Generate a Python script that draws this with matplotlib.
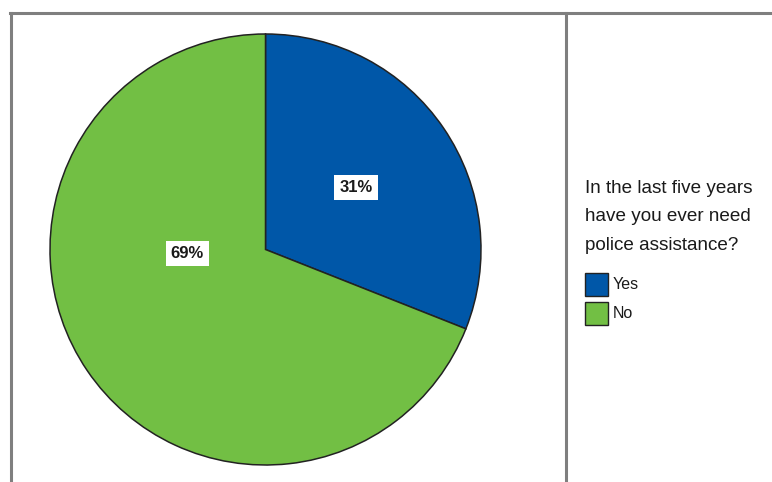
import numpy as np
import matplotlib
matplotlib.use("Agg")
import matplotlib.pyplot as plt
from matplotlib.lines import Line2D
from matplotlib.patches import Rectangle

plt.rcParams['font.family'] = ['Liberation Sans', 'DejaVu Sans']

# data
categories = ['Yes', 'No']
shares = [31, 69]
colors = ['#0057a8', '#72bf44']
title_lines = ['In the last five years', 'have you ever need', 'police assistance?']

W, H = 772, 482
fig = plt.figure(figsize=(W / 100, H / 100), dpi=100)

# pie axes (pixel layout)
r = 215.5
cx, cy = 265.5, 249.5
pad = 1.02
ax = fig.add_axes([(cx - r * pad) / W, (H - cy - r * pad) / H, 2 * r * pad / W, 2 * r * pad / H])
wedges, _ = ax.pie(shares, colors=colors, startangle=90, counterclock=False,
                   wedgeprops=dict(edgecolor='#222222', linewidth=1.1))
ax.set_xlim(-pad, pad)
ax.set_ylim(-pad, pad)
ax.set_aspect('equal')
ax.axis('off')

# percentage labels
label_pos = [(0.42, 0.29), (-0.363, -0.02)]
for s, (x, y) in zip(shares, label_pos):
    ax.text(x, y, f'{s}%', ha='center', va='center', fontsize=12, fontweight='bold',
            color='#1a1a1a',
            bbox=dict(facecolor='white', edgecolor='none', boxstyle='square,pad=0.3'))

# frame lines
gray = '#7f7f7f'
lw = 2.2
fig.add_artist(Line2D([10 / W, 1], [1 - 13 / H, 1 - 13 / H], color=gray, lw=lw,
                      transform=fig.transFigure))
fig.add_artist(Line2D([11 / W, 11 / W], [0, 1 - 13 / H], color=gray, lw=lw,
                      transform=fig.transFigure))
fig.add_artist(Line2D([566 / W, 566 / W], [0, 1 - 13 / H], color=gray, lw=lw,
                      transform=fig.transFigure))

# legend title
for i, line in enumerate(title_lines):
    fig.text(585 / W, 1 - (193 + 28.5 * i) / H, line, fontsize=13.6, color='#1a1a1a',
             ha='left', va='baseline')

# legend entries
for i, (cat, c) in enumerate(zip(categories, colors)):
    top = 273 + 29 * i
    fig.add_artist(Rectangle((585 / W, 1 - (top + 23) / H), 23 / W, 23 / H,
                             facecolor=c, edgecolor='#222222', lw=1.0,
                             transform=fig.transFigure))
    fig.text(613 / W, 1 - (top + 11.5) / H, cat, fontsize=11.5, color='#1a1a1a',
             ha='left', va='center')

fig.savefig('out.png', dpi=100)
